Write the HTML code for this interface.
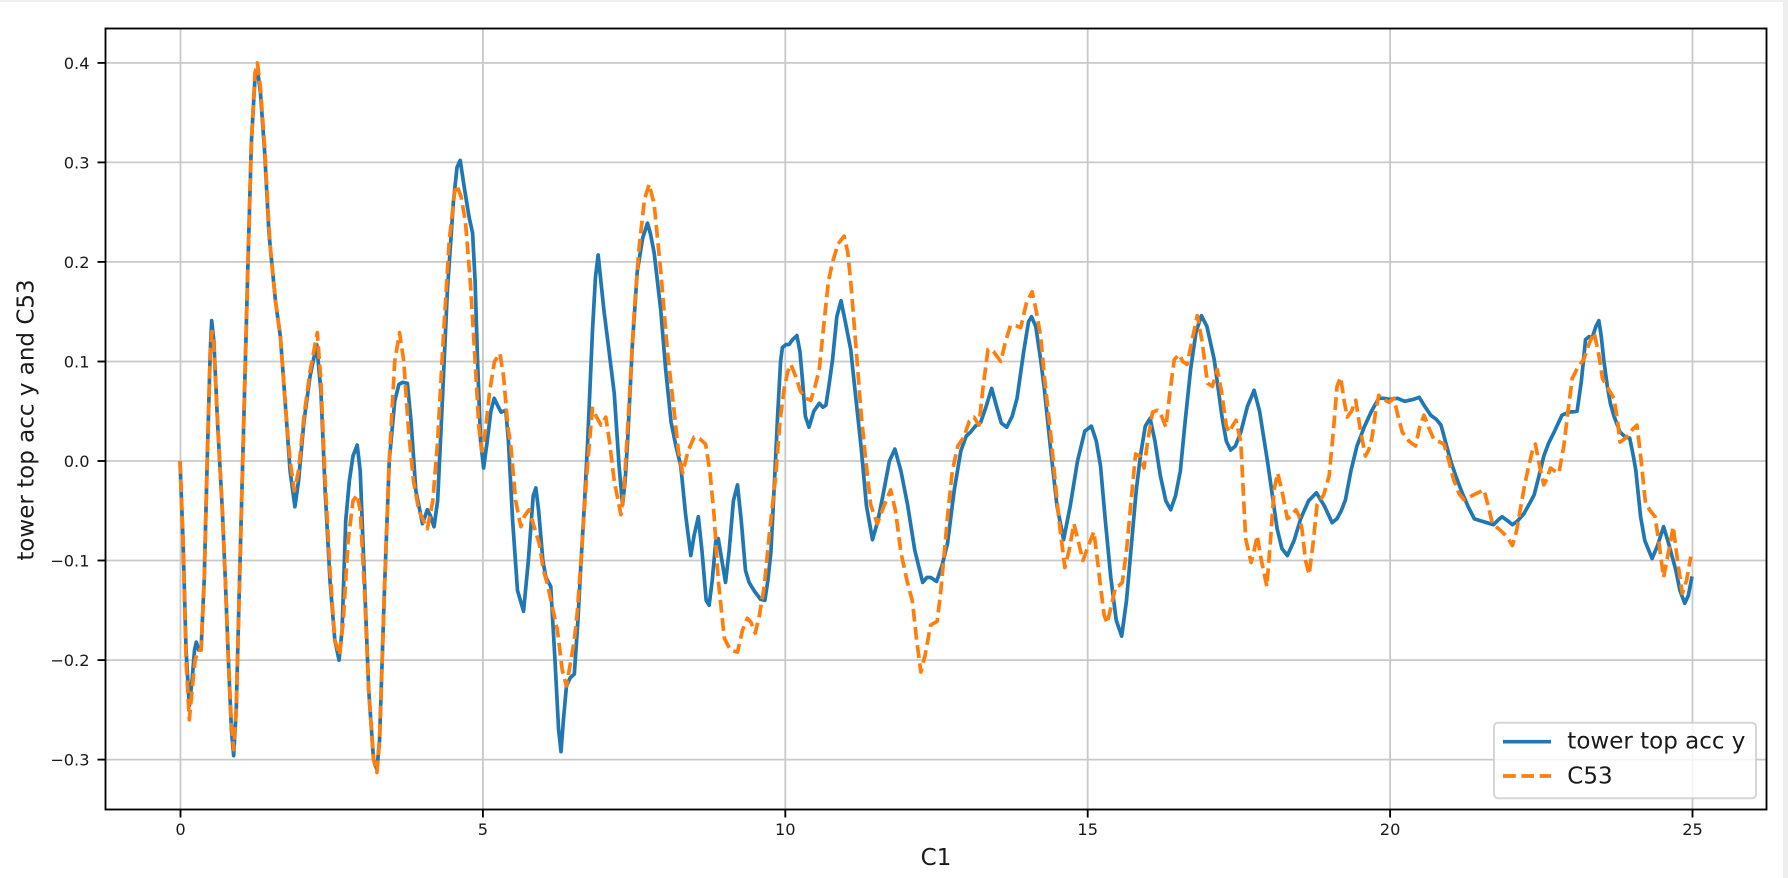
<!DOCTYPE html>
<html>
<head>
<meta charset="utf-8">
<style>
  html,body{margin:0;padding:0;background:#fff;}
  svg{display:block;}
  text{font-family:"DejaVu Sans","Liberation Sans",sans-serif;fill:#1a1a1a;}
</style>
</head>
<body>
<svg width="1788" height="878" viewBox="0 0 1788 878" xmlns="http://www.w3.org/2000/svg">
  <rect x="0" y="0" width="1788" height="878" fill="#ffffff"/>
  <rect x="0" y="0" width="1788" height="2" fill="#efefef"/>
  <rect x="1783" y="0" width="5" height="878" fill="#eeeeee"/>

  <!-- grid -->
  <g stroke="#c9c9c9" stroke-width="1.8" fill="none">
    <line x1="180.5" y1="28.5" x2="180.5" y2="809.5"/>
    <line x1="482.9" y1="28.5" x2="482.9" y2="809.5"/>
    <line x1="785.3" y1="28.5" x2="785.3" y2="809.5"/>
    <line x1="1087.7" y1="28.5" x2="1087.7" y2="809.5"/>
    <line x1="1390.1" y1="28.5" x2="1390.1" y2="809.5"/>
    <line x1="1692.5" y1="28.5" x2="1692.5" y2="809.5"/>
    <line x1="105.5" y1="62.9" x2="1766.5" y2="62.9"/>
    <line x1="105.5" y1="162.4" x2="1766.5" y2="162.4"/>
    <line x1="105.5" y1="261.9" x2="1766.5" y2="261.9"/>
    <line x1="105.5" y1="361.5" x2="1766.5" y2="361.5"/>
    <line x1="105.5" y1="461" x2="1766.5" y2="461"/>
    <line x1="105.5" y1="560.5" x2="1766.5" y2="560.5"/>
    <line x1="105.5" y1="660.1" x2="1766.5" y2="660.1"/>
    <line x1="105.5" y1="759.6" x2="1766.5" y2="759.6"/>
  </g>

  <!-- series -->
  <g transform="matrix(60.48 0 0 -995.3 180 461)" fill="none" stroke-linejoin="round" stroke-linecap="butt">
    <polyline vector-effect="non-scaling-stroke" stroke="#1f77b4" stroke-width="3.7" points="0,0 0.05,-0.08 0.1,-0.19 0.154,-0.246 0.2,-0.22 0.24,-0.19 0.27,-0.182 0.31,-0.19 0.35,-0.187 0.4,-0.12 0.45,0 0.5,0.11 0.524,0.141 0.56,0.12 0.62,0.04 0.7,-0.05 0.75,-0.12 0.8,-0.2 0.85,-0.27 0.887,-0.296 0.93,-0.25 0.98,-0.13 1.05,0.03 1.12,0.19 1.18,0.32 1.24,0.385 1.284,0.392 1.33,0.37 1.4,0.31 1.47,0.23 1.5,0.21 1.58,0.16 1.66,0.125 1.75,0.05 1.82,-0.01 1.9,-0.046 1.96,-0.02 2.05,0.04 2.15,0.085 2.26,0.117 2.33,0.07 2.4,-0.03 2.48,-0.12 2.56,-0.18 2.63,-0.2 2.68,-0.17 2.74,-0.06 2.8,-0.02 2.86,0.005 2.93,0.016 2.98,-0.01 3.05,-0.12 3.12,-0.23 3.2,-0.3 3.256,-0.31 3.3,-0.28 3.38,-0.13 3.46,0 3.55,0.06 3.62,0.077 3.68,0.079 3.76,0.078 3.82,0.04 3.9,-0.03 4.01,-0.063 4.09,-0.049 4.14,-0.055 4.2,-0.066 4.26,-0.04 4.33,0.05 4.42,0.17 4.52,0.26 4.58,0.295 4.633,0.302 4.7,0.275 4.78,0.245 4.838,0.229 4.88,0.18 4.92,0.1 4.97,0.02 5.02,-0.007 5.08,0.02 5.14,0.05 5.195,0.063 5.25,0.056 5.31,0.049 5.387,0.051 5.43,0.02 5.5,-0.06 5.58,-0.13 5.68,-0.151 5.76,-0.1 5.84,-0.035 5.884,-0.027 5.93,-0.05 6,-0.1 6.05,-0.117 6.13,-0.126 6.2,-0.2 6.26,-0.27 6.3,-0.292 6.34,-0.26 6.39,-0.226 6.45,-0.218 6.52,-0.214 6.58,-0.16 6.63,-0.102 6.69,-0.04 6.74,0.019 6.78,0.075 6.82,0.131 6.87,0.185 6.914,0.207 6.96,0.18 7.01,0.151 7.07,0.122 7.18,0.068 7.26,-0.005 7.317,-0.044 7.36,-0.02 7.4,0.019 7.48,0.117 7.56,0.19 7.65,0.224 7.73,0.239 7.78,0.228 7.84,0.209 7.95,0.151 8.03,0.092 8.12,0.039 8.2,0.015 8.28,-0.005 8.36,-0.054 8.446,-0.095 8.5,-0.075 8.57,-0.056 8.63,-0.09 8.7,-0.14 8.749,-0.145 8.8,-0.12 8.86,-0.08 8.9,-0.078 8.96,-0.1 9.02,-0.122 9.08,-0.09 9.15,-0.04 9.218,-0.024 9.28,-0.06 9.35,-0.11 9.41,-0.122 9.5,-0.131 9.6,-0.139 9.67,-0.14 9.72,-0.12 9.77,-0.092 9.83,-0.02 9.88,0.044 9.93,0.1 9.96,0.114 10.02,0.117 10.07,0.117 10.13,0.122 10.2,0.126 10.25,0.11 10.29,0.083 10.34,0.045 10.4,0.034 10.48,0.05 10.57,0.058 10.63,0.054 10.68,0.056 10.74,0.08 10.79,0.102 10.86,0.145 10.93,0.161 11,0.14 11.09,0.112 11.18,0.06 11.26,0.015 11.35,-0.045 11.45,-0.079 11.54,-0.06 11.64,-0.029 11.73,0 11.82,0.012 11.92,-0.01 12.03,-0.044 12.15,-0.09 12.28,-0.122 12.35,-0.117 12.41,-0.117 12.51,-0.121 12.6,-0.105 12.69,-0.083 12.8,-0.03 12.91,0.01 13,0.025 13.07,0.029 13.15,0.035 13.24,0.039 13.33,0.055 13.42,0.073 13.5,0.055 13.58,0.038 13.67,0.034 13.76,0.045 13.84,0.063 13.95,0.11 14.03,0.14 14.08,0.145 14.15,0.135 14.23,0.102 14.29,0.073 14.39,0.015 14.5,-0.045 14.61,-0.079 14.72,-0.045 14.84,0 14.96,0.03 15.07,0.035 15.15,0.02 15.22,-0.005 15.3,-0.06 15.39,-0.117 15.48,-0.16 15.57,-0.176 15.65,-0.14 15.74,-0.078 15.81,-0.03 15.88,0.005 15.96,0.035 16.04,0.043 16.12,0.02 16.21,-0.015 16.3,-0.04 16.38,-0.049 16.46,-0.035 16.54,-0.01 16.62,0.04 16.71,0.092 16.8,0.13 16.89,0.146 16.98,0.135 17.1,0.102 17.23,0.044 17.3,0.02 17.37,0.011 17.45,0.015 17.54,0.029 17.65,0.055 17.76,0.071 17.85,0.05 17.98,0 18.14,-0.068 18.22,-0.088 18.31,-0.095 18.42,-0.08 18.53,-0.058 18.66,-0.04 18.79,-0.032 18.92,-0.045 19.05,-0.062 19.13,-0.058 19.2,-0.05 19.27,-0.039 19.36,-0.01 19.46,0.015 19.58,0.034 19.7,0.05 19.82,0.063 19.9,0.063 20,0.062 20.13,0.063 20.25,0.06 20.32,0.061 20.4,0.062 20.49,0.064 20.58,0.055 20.68,0.046 20.77,0.042 20.85,0.036 20.93,0.018 21.01,0 21.1,-0.016 21.2,-0.032 21.3,-0.046 21.4,-0.058 21.5,-0.06 21.61,-0.062 21.72,-0.064 21.8,-0.059 21.86,-0.056 21.95,-0.06 22.03,-0.064 22.12,-0.06 22.22,-0.053 22.32,-0.042 22.39,-0.034 22.47,-0.015 22.55,0.005 22.63,0.018 22.72,0.029 22.85,0.046 22.96,0.049 23.1,0.05 23.17,0.08 23.24,0.122 23.3,0.125 23.35,0.124 23.41,0.135 23.46,0.141 23.5,0.125 23.54,0.102 23.6,0.075 23.65,0.058 23.71,0.045 23.81,0.029 23.9,0.024 23.97,0.023 24.03,0.005 24.07,-0.009 24.15,-0.056 24.22,-0.08 24.34,-0.098 24.43,-0.085 24.53,-0.066 24.6,-0.08 24.73,-0.109 24.8,-0.13 24.88,-0.143 24.94,-0.135 25,-0.116"/>
    <polyline vector-effect="non-scaling-stroke" stroke="#ff7f0e" stroke-width="3.7" stroke-dasharray="12.8 5.5" points="0,0 0.05,-0.08 0.1,-0.2 0.154,-0.26 0.2,-0.23 0.25,-0.2 0.3,-0.19 0.35,-0.19 0.4,-0.12 0.45,0 0.5,0.11 0.53,0.13 0.56,0.115 0.62,0.04 0.7,-0.05 0.75,-0.12 0.8,-0.2 0.85,-0.265 0.887,-0.29 0.93,-0.25 0.98,-0.13 1.05,0.03 1.12,0.19 1.18,0.32 1.24,0.39 1.28,0.4 1.33,0.375 1.4,0.315 1.47,0.235 1.5,0.21 1.58,0.16 1.66,0.125 1.75,0.05 1.82,0 1.89,-0.03 1.96,-0.01 2.05,0.045 2.15,0.09 2.27,0.129 2.33,0.08 2.4,-0.02 2.48,-0.11 2.56,-0.18 2.64,-0.195 2.7,-0.16 2.78,-0.08 2.86,-0.04 2.93,-0.034 2.98,-0.05 3.05,-0.13 3.12,-0.23 3.2,-0.3 3.256,-0.313 3.3,-0.28 3.38,-0.13 3.46,0 3.55,0.1 3.63,0.129 3.7,0.1 3.78,0.03 3.86,-0.02 3.95,-0.05 4.09,-0.068 4.18,-0.04 4.26,0.02 4.35,0.12 4.45,0.22 4.54,0.27 4.58,0.277 4.65,0.265 4.72,0.24 4.8,0.18 4.88,0.1 4.94,0.035 4.99,0.01 5.05,0.03 5.12,0.07 5.2,0.1 5.29,0.108 5.35,0.085 5.42,0.035 5.47,0.015 5.55,-0.04 5.636,-0.066 5.7,-0.055 5.77,-0.049 5.85,-0.065 5.94,-0.083 6.01,-0.11 6.077,-0.124 6.15,-0.145 6.24,-0.17 6.32,-0.21 6.39,-0.226 6.45,-0.205 6.52,-0.18 6.57,-0.151 6.63,-0.1 6.68,-0.054 6.73,-0.01 6.77,0.019 6.82,0.053 6.88,0.045 6.96,0.036 7.04,0.044 7.1,0.02 7.18,-0.02 7.29,-0.054 7.34,-0.03 7.43,0.063 7.51,0.15 7.59,0.214 7.68,0.263 7.758,0.278 7.84,0.258 7.95,0.19 8.06,0.11 8.17,0.05 8.24,0.01 8.31,-0.012 8.4,0.01 8.5,0.024 8.6,0.022 8.69,0.017 8.76,-0.01 8.83,-0.054 8.9,-0.12 9,-0.178 9.1,-0.19 9.218,-0.192 9.3,-0.17 9.38,-0.158 9.44,-0.162 9.51,-0.173 9.58,-0.155 9.66,-0.126 9.75,-0.07 9.85,-0.015 9.92,0.04 9.99,0.073 10.05,0.09 10.1,0.097 10.18,0.085 10.26,0.07 10.35,0.063 10.43,0.061 10.5,0.075 10.57,0.092 10.65,0.14 10.72,0.18 10.79,0.2 10.88,0.218 10.98,0.226 11.04,0.21 11.09,0.18 11.17,0.12 11.26,0.049 11.34,0 11.42,-0.044 11.53,-0.063 11.64,-0.045 11.75,-0.029 11.83,-0.05 11.92,-0.092 12.02,-0.12 12.11,-0.141 12.18,-0.18 12.25,-0.212 12.32,-0.195 12.41,-0.165 12.52,-0.161 12.58,-0.13 12.63,-0.097 12.7,-0.05 12.77,-0.01 12.86,0.015 12.96,0.024 13.05,0.04 13.13,0.044 13.21,0.036 13.28,0.075 13.36,0.112 13.45,0.11 13.57,0.1 13.65,0.12 13.73,0.136 13.82,0.136 13.9,0.134 14,0.16 14.09,0.17 14.16,0.15 14.23,0.125 14.3,0.08 14.4,0.025 14.53,-0.058 14.63,-0.107 14.7,-0.09 14.78,-0.063 14.85,-0.08 14.93,-0.1 15.02,-0.085 15.11,-0.071 15.17,-0.1 15.22,-0.126 15.28,-0.155 15.33,-0.163 15.4,-0.145 15.47,-0.126 15.53,-0.125 15.58,-0.122 15.65,-0.09 15.72,-0.044 15.8,0.007 15.87,0.005 15.94,-0.007 16,0.02 16.08,0.049 16.16,0.051 16.23,0.045 16.3,0.034 16.37,0.07 16.44,0.102 16.52,0.107 16.58,0.1 16.65,0.097 16.73,0.12 16.82,0.146 16.9,0.12 16.99,0.078 17.07,0.075 17.15,0.092 17.22,0.07 17.3,0.035 17.35,0.029 17.4,0.035 17.46,0.041 17.54,0.019 17.58,-0.03 17.62,-0.078 17.71,-0.102 17.76,-0.09 17.81,-0.075 17.88,-0.1 17.97,-0.126 18.03,-0.08 18.09,-0.029 18.15,-0.012 18.22,-0.03 18.31,-0.058 18.38,-0.055 18.45,-0.049 18.5,-0.055 18.55,-0.068 18.61,-0.1 18.67,-0.114 18.74,-0.08 18.8,-0.044 18.91,-0.034 19,-0.015 19.07,0.03 19.13,0.075 19.19,0.084 19.25,0.06 19.3,0.044 19.37,0.05 19.44,0.061 19.52,0.03 19.6,0.005 19.66,0.012 19.71,0.024 19.77,0.05 19.82,0.066 19.9,0.062 19.99,0.059 20.07,0.063 20.14,0.045 20.21,0.029 20.32,0.02 20.43,0.015 20.5,0.035 20.57,0.046 20.65,0.033 20.73,0.022 20.9,0.017 20.98,0 21.06,-0.019 21.15,-0.033 21.23,-0.039 21.39,-0.034 21.56,-0.029 21.63,-0.045 21.7,-0.063 21.8,-0.068 21.89,-0.073 21.96,-0.078 22.03,-0.085 22.1,-0.07 22.16,-0.049 22.23,-0.025 22.3,-0.005 22.36,0.01 22.41,0.017 22.48,-0.005 22.55,-0.024 22.6,-0.018 22.66,-0.007 22.73,-0.01 22.8,-0.012 22.88,0.015 22.95,0.05 23.02,0.083 23.12,0.095 23.21,0.102 23.3,0.118 23.38,0.129 23.45,0.11 23.52,0.083 23.63,0.071 23.71,0.063 23.77,0.04 23.81,0.019 23.88,0.022 23.95,0.026 24.02,0.032 24.09,0.036 24.16,0 24.23,-0.042 24.31,-0.05 24.39,-0.056 24.46,-0.085 24.53,-0.117 24.6,-0.095 24.69,-0.066 24.76,-0.1 24.84,-0.133 24.91,-0.12 24.98,-0.096"/>
  </g>

  <!-- spines -->
  <rect x="105.5" y="28.5" width="1661" height="781" fill="none" stroke="#000" stroke-width="1.85"/>

  <!-- ticks -->
  <g stroke="#000" stroke-width="1.85">
    <line x1="180.5" y1="809.5" x2="180.5" y2="817.5"/>
    <line x1="482.9" y1="809.5" x2="482.9" y2="817.5"/>
    <line x1="785.3" y1="809.5" x2="785.3" y2="817.5"/>
    <line x1="1087.7" y1="809.5" x2="1087.7" y2="817.5"/>
    <line x1="1390.1" y1="809.5" x2="1390.1" y2="817.5"/>
    <line x1="1692.5" y1="809.5" x2="1692.5" y2="817.5"/>
    <line x1="97.5" y1="62.9" x2="105.5" y2="62.9"/>
    <line x1="97.5" y1="162.4" x2="105.5" y2="162.4"/>
    <line x1="97.5" y1="261.9" x2="105.5" y2="261.9"/>
    <line x1="97.5" y1="361.5" x2="105.5" y2="361.5"/>
    <line x1="97.5" y1="461" x2="105.5" y2="461"/>
    <line x1="97.5" y1="560.5" x2="105.5" y2="560.5"/>
    <line x1="97.5" y1="660.1" x2="105.5" y2="660.1"/>
    <line x1="97.5" y1="759.6" x2="105.5" y2="759.6"/>
  </g>

  <!-- x tick labels -->
  <g font-size="16.2" text-anchor="middle">
    <text x="180.5" y="835">0</text>
    <text x="482.9" y="835">5</text>
    <text x="785.3" y="835">10</text>
    <text x="1087.7" y="835">15</text>
    <text x="1390.1" y="835">20</text>
    <text x="1692.5" y="835">25</text>
  </g>
  <!-- y tick labels -->
  <g font-size="16.2" text-anchor="end">
    <text x="89.5" y="68.8">0.4</text>
    <text x="89.5" y="168.3">0.3</text>
    <text x="89.5" y="267.8">0.2</text>
    <text x="89.5" y="367.4">0.1</text>
    <text x="89.5" y="466.9">0.0</text>
    <text x="89.5" y="566.4">−0.1</text>
    <text x="89.5" y="666">−0.2</text>
    <text x="89.5" y="765.5">−0.3</text>
  </g>

  <!-- axis labels -->
  <text x="936" y="865" font-size="23" text-anchor="middle">C1</text>
  <text transform="translate(33.5,420) rotate(-90)" font-size="23" text-anchor="middle">tower top acc y and C53</text>

  <!-- legend -->
  <rect x="1494" y="722.7" width="262" height="75.6" rx="4" ry="4" fill="#ffffff" fill-opacity="0.8" stroke="#cccccc" stroke-opacity="0.8" stroke-width="2"/>
  <line x1="1503" y1="741.7" x2="1551" y2="741.7" stroke="#1f77b4" stroke-width="3.7"/>
  <line x1="1503" y1="776" x2="1551" y2="776" stroke="#ff7f0e" stroke-width="3.7" stroke-dasharray="12.8 5.5"/>
  <text x="1567.3" y="748.3" font-size="23">tower top acc y</text>
  <text x="1567.3" y="783.3" font-size="23">C53</text>
</svg>
</body>
</html>
